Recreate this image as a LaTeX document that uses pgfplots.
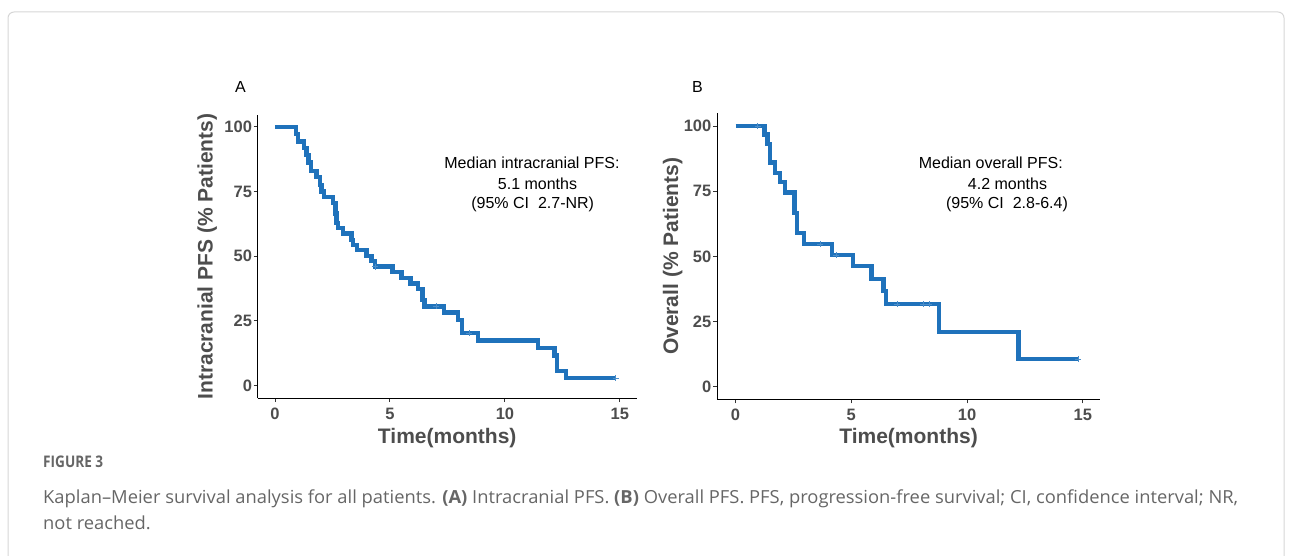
\documentclass[border=0pt]{standalone}
\usepackage{fontspec}
\setmainfont{Liberation Sans}
\newfontfamily\capfont{Open Sans}
\usepackage{graphicx}
\usepackage{pgfplots}
\pgfplotsset{compat=1.18}
\definecolor{kmblue}{HTML}{1F72BB}
\definecolor{tickgray}{HTML}{4D4D4D}
\definecolor{capgray}{HTML}{666666}
\definecolor{framegray}{HTML}{D6D6D6}
\newlength{\capw}
\newcommand{\capline}{Kaplan–Meier survival analysis for all patients. \textbf{(A)} Intracranial PFS. \textbf{(B)} Overall PFS. PFS, progression-free survival; CI, confidence interval; NR,}

\pgfplotstableread{
t s
0 100
0.91 97.1
1.01 94.3
1.27 91.8
1.37 89.0
1.46 86.2
1.56 83.0
1.81 80.6
1.95 77.5
2.03 75.0
2.12 72.9
2.53 70.4
2.63 66.5
2.68 62.8
2.75 61.0
2.97 58.8
3.33 56.2
3.40 54.3
3.57 52.4
3.98 50.0
4.20 48.1
4.34 46.0
5.11 43.8
5.50 41.6
5.90 39.4
6.22 37.2
6.41 33.0
6.50 30.6
7.34 28.3
7.95 25.4
8.13 20.3
8.84 17.5
11.45 14.6
12.15 11.6
12.25 5.8
12.66 3.0
14.81 3.0
}\intraA

\pgfplotstableread{
t s
4.35 46.0
7.00 30.6
8.45 20.3
14.81 3.0
}\censA

\pgfplotstableread{
t s
0 100
1.25 96.8
1.38 93.0
1.49 86.0
1.72 82.1
1.92 78.5
2.13 74.5
2.55 66.6
2.67 59.0
2.97 54.8
4.17 50.6
5.08 46.2
5.87 41.4
6.39 36.8
6.49 31.7
8.80 21.1
12.23 10.6
14.80 10.6
}\overB

\pgfplotstableread{
t s
0.95 100
3.67 54.8
4.36 50.6
6.99 31.7
8.11 31.7
8.37 31.7
14.80 10.6
}\censB

\pgfplotsset{kmaxis/.style={
  scale only axis,
  axis x line*=bottom, axis y line*=left,
  axis line style={black, line width=1pt, -},
  tick align=outside, major tick length=4pt,
  tick style={black!80, line width=0.9pt},
  xtick={0,5,10,15}, ytick={0,25,50,75,100},
  /pgf/number format/assume math mode=true,
  ticklabel style={font=\fontsize{16.5}{18}\selectfont\bfseries, text=tickgray},
  xticklabel style={anchor=base, inner sep=0pt, yshift=-17pt},
  yticklabel style={anchor=east, inner sep=0pt, xshift=-1.5pt},
  every axis x label/.style={font=\fontsize{21}{24}\selectfont\bfseries, text=tickgray, anchor=base},
  every axis y label/.style={font=\fontsize{21}{24}\selectfont\bfseries, text=tickgray, rotate=90, anchor=base},
  xlabel={Time(months)},
}}

\begin{document}
\settowidth{\capw}{\capfont\fontsize{18}{22}\selectfont\capline}%
\pgfmathsetmacro\capr{1195/\capw}%
\begin{tikzpicture}
\useasboundingbox (0,0) rectangle (1292pt,555pt);
% frame
\draw[framegray, line width=1pt, rounded corners=6pt] (8pt,-10pt) -- (8pt,543pt) -- (1284pt,543pt) -- (1284pt,-10pt);
% panel letters
\node[anchor=base west, inner sep=0pt, font=\fontsize{16}{18}\selectfont] at (235pt,462pt) {A};
\node[anchor=base west, inner sep=0pt, font=\fontsize{16}{18}\selectfont] at (692pt,462pt) {B};

\begin{axis}[kmaxis,
  at={(257.7pt,157pt)}, anchor=south west,
  width=379pt, height=283pt,
  xmin=-0.75, xmax=15.73, ymin=-4.75, ymax=104.5,
  xlabel style={at={([yshift=-45pt]axis description cs:0.5,0)}},
  ylabel style={at={([xshift=-45pt]axis description cs:0,0.5)}},
  ylabel={Intracranial PFS (\% Patients)}]
\addplot[const plot, kmblue, line width=4.3pt] table[x=t, y=s] {\intraA};
\addplot[only marks, mark=+, mark size=3pt, kmblue!80, mark options={line width=0.6pt}] table[x=t, y=s] {\censA};
\end{axis}

\begin{axis}[kmaxis,
  at={(717pt,155.7pt)}, anchor=south west,
  width=383.1pt, height=286pt,
  xmin=-0.8, xmax=15.75, ymin=-4.8, ymax=104.9,
  xlabel style={at={([yshift=-44pt]axis description cs:0.5,0)}},
  ylabel style={at={([xshift=-39pt]axis description cs:0,0.5)}},
  ylabel={Overall (\% Patients)}]
\addplot[const plot, kmblue, line width=4.3pt] table[x=t, y=s] {\overB};
\addplot[only marks, mark=+, mark size=3pt, kmblue!80, mark options={line width=0.6pt}] table[x=t, y=s] {\censB};
\end{axis}

% annotations
\begin{scope}[every node/.style={anchor=base, inner sep=0pt, font=\fontsize{16}{18}\selectfont}]
\node at (532pt,386pt) {Median intracranial PFS:};
\node at (537.5pt,365.7pt) {5.1 months};
\node at (532.7pt,346pt) {(95\% CI\ \ 2.7-NR)};
\node at (990.8pt,386pt) {Median overall PFS:};
\node at (1007.5pt,365.7pt) {4.2 months};
\node at (1007pt,346pt) {(95\% CI\ \ 2.8-6.4)};
\end{scope}

% caption
\node[anchor=base west, inner sep=0pt, text=capgray] at (43pt,88pt) {\resizebox{60pt}{\height}{\capfont\fontsize{16}{18}\selectfont\bfseries FIGURE 3}};
\node[anchor=base west, inner sep=0pt, text=capgray] at (43pt,52pt) {\scalebox{\capr}[1]{\capfont\fontsize{18}{22}\selectfont\capline}};
\node[anchor=base west, inner sep=0pt, text=capgray] at (43pt,26pt) {\scalebox{\capr}[1]{\capfont\fontsize{18}{22}\selectfont not reached.}};
\end{tikzpicture}
\end{document}
